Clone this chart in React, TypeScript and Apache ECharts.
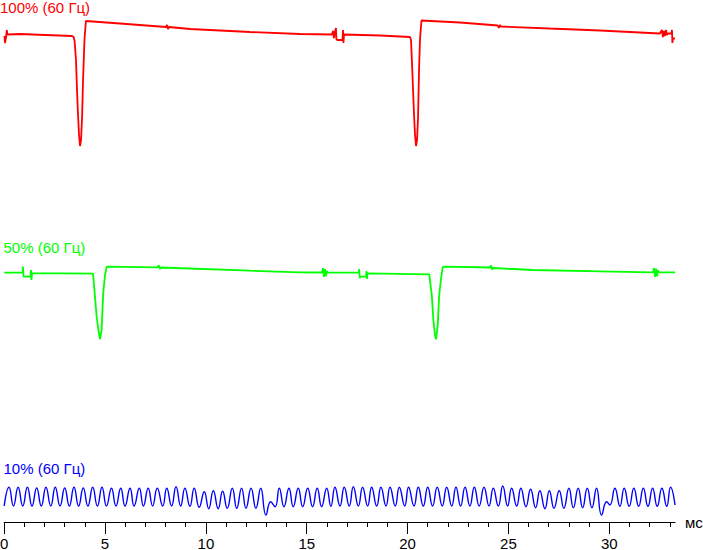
import React, { useEffect, useRef } from "react";
import * as echarts from "echarts";

// time in ms, level in arbitrary units (height above the time axis)
const redTrace: [number, number][] = [
  [0.01, 486], [0.04, 479], [0.10, 486], [0.13, 492], [0.16, 487.5], [0.78, 488], [2.02, 487], [3.36, 486],
  [3.44, 485], [3.49, 481], [3.56, 462], [3.61, 432], [3.66, 407], [3.71, 387], [3.76, 376], [3.81, 382],
  [3.86, 404], [3.91, 442], [3.98, 482], [4.05, 501], [5.74, 498.5], [8.02, 495], [8.07, 497], [8.12, 493],
  [8.17, 495], [9.21, 493], [12.19, 490], [14.67, 488], [16.25, 487.5], [16.30, 491], [16.35, 484], [16.40, 490],
  [16.45, 494], [16.47, 483], [16.52, 482], [16.77, 482], [16.80, 492], [16.82, 479], [16.85, 487.5], [18.63, 486.5],
  [20.12, 485], [20.17, 482], [20.22, 459], [20.27, 433], [20.32, 407], [20.37, 387], [20.42, 376], [20.47, 382],
  [20.52, 405], [20.57, 453], [20.62, 484], [20.69, 501.5], [22.60, 499.5], [24.48, 496.5], [24.53, 494], [24.58, 497],
  [24.63, 495.5], [27.06, 493.5], [29.54, 491.5], [32.51, 488.5], [32.61, 492], [32.66, 485], [32.71, 491], [32.76, 486],
  [32.81, 492], [32.86, 487], [32.91, 488.5], [33.08, 488.5], [33.11, 492], [33.13, 479], [33.16, 483.5], [33.26, 483.5],
];

const greenTrace: [number, number][] = [
  [0.00, 249.3], [0.91, 249.3], [0.93, 255.5], [0.96, 246], [0.98, 245.3], [1.30, 245.3], [1.33, 252], [1.35, 242],
  [1.38, 248.7], [2.77, 248.7], [4.40, 248.3], [4.42, 245.3], [4.50, 225.3], [4.59, 204], [4.67, 192], [4.75, 183],
  [4.83, 192], [4.91, 229], [5.00, 247], [5.08, 255.3], [7.58, 254.7], [7.67, 256.5], [7.72, 253], [7.77, 254.5],
  [12.19, 251.3], [14.66, 249.7], [15.76, 249.5], [15.81, 254], [15.86, 245], [15.91, 253], [15.95, 246], [16.00, 251],
  [16.05, 249.3], [17.59, 249.3], [17.60, 253], [17.63, 244], [17.66, 245.3], [17.94, 245.3], [17.96, 251], [17.99, 243],
  [18.01, 248.7], [21.08, 247.7], [21.11, 242], [21.20, 227], [21.28, 202], [21.36, 187], [21.41, 182.7], [21.49, 195.3],
  [21.57, 227], [21.66, 243.7], [21.74, 254.7], [21.81, 255.3], [24.09, 254.5], [24.14, 256.5], [24.19, 252.5], [24.24, 254],
  [26.22, 252], [29.54, 250.7], [32.17, 249.7], [32.22, 254], [32.27, 245], [32.32, 253.5], [32.37, 245.5], [32.41, 252],
  [32.46, 249.7], [33.26, 249.7],
];

// extrema of the 10% ripple (peak / trough alternating)
const blueTrace: [number, number][] = [
  [0.00, 16], [0.24, 34.7], [0.46, 16], [0.69, 34.7], [0.92, 16], [1.15, 34.7], [1.38, 16], [1.61, 34],
  [1.84, 16], [2.07, 34.7], [2.31, 16], [2.53, 34.7], [2.77, 16], [3.00, 34], [3.23, 16], [3.46, 34.7],
  [3.69, 16], [3.92, 34], [4.15, 16], [4.39, 34.7], [4.62, 16], [4.85, 34.7], [5.07, 16], [5.32, 33.7],
  [5.54, 16], [5.78, 33.7], [5.99, 16], [6.24, 33.7], [6.44, 16], [6.70, 33.7], [6.90, 16], [7.14, 33.7],
  [7.36, 16], [7.59, 33.7], [7.86, 16], [8.06, 33.7], [8.30, 16], [8.52, 35.3], [8.75, 16], [8.96, 33.7],
  [9.21, 15.7], [9.42, 33.7], [9.67, 14.7], [9.92, 30.3], [10.14, 13.3], [10.37, 31.3], [10.61, 13.3], [10.83, 30.7],
  [11.06, 13.7], [11.31, 33.7], [11.53, 13.7], [11.77, 33.7], [11.99, 13.7], [12.24, 33.7], [12.48, 13.7], [12.72, 33.7],
  [12.98, 7], [13.21, 20.3], [13.43, 15.3], [13.64, 33.7], [13.87, 15.3], [14.12, 33.7], [14.33, 15.3], [14.58, 33.7],
  [14.80, 15.3], [15.05, 33.7], [15.29, 15.3], [15.52, 33.7], [15.74, 15.3], [15.99, 33.7], [16.20, 15.7], [16.40, 34.7],
  [16.65, 16], [16.86, 34.7], [17.11, 16], [17.31, 35.3], [17.56, 16], [17.77, 34.7], [18.02, 16], [18.22, 34.7],
  [18.47, 16], [18.68, 34.7], [18.93, 16], [19.13, 34.7], [19.39, 16], [19.59, 34.7], [19.86, 16], [20.05, 34.7],
  [20.32, 16], [20.53, 34.7], [20.78, 16], [21.00, 34.7], [21.24, 16], [21.47, 34.7], [21.72, 16], [21.94, 34.7],
  [22.19, 16], [22.40, 34.7], [22.63, 16], [22.85, 34.7], [23.09, 16], [23.31, 34.7], [23.55, 16], [23.79, 34.7],
  [24.04, 16], [24.25, 33.7], [24.50, 16], [24.72, 36], [24.96, 16], [25.16, 33.7], [25.41, 16], [25.62, 33.7],
  [25.87, 15.3], [26.10, 32.7], [26.35, 14.3], [26.56, 31.3], [26.81, 13.3], [27.03, 31.3], [27.26, 13.7], [27.52, 31.3],
  [27.75, 13.7], [28.00, 33.7], [28.22, 14.3], [28.46, 33.7], [28.68, 14.3], [28.91, 33.7], [29.14, 14.3], [29.37, 33.7],
  [29.62, 7], [29.87, 20.3], [30.03, 17], [30.28, 33.7], [30.53, 15.7], [30.74, 33.7], [30.99, 15.7], [31.22, 33.7],
  [31.46, 15.7], [31.69, 33.7], [31.92, 15.7], [32.15, 33.7], [32.38, 15.7], [32.61, 33.7], [32.85, 15.7], [33.04, 34.7],
  [33.26, 17],
];

const traceLabels = ["100% (60 Гц)", "50% (60 Гц)", "10% (60 Гц)"];
const majorTicks = [0, 5, 10, 15, 20, 25, 30];
const minorTicks = [0, 1, 2, 3, 4, 5, 6, 7, 8, 9, 10, 11, 12, 13, 14, 15, 16, 17, 18, 19, 20, 21, 22, 23, 24, 25, 26, 27, 28, 29, 30, 31, 32, 33];
const timeMax = 33.26;
const unitName = "мс";

const FONT = "'Liberation Sans', Arial, sans-serif";

export default function App() {
  const ref = useRef<HTMLDivElement>(null);
  useEffect(() => {
    if (!ref.current) return;
    const chart = echarts.init(ref.current, undefined, { renderer: "svg" });
    const labelColors = ["#ff0000", "#00ff00", "#0000ff"];
    const labelPos = [
      { x: 0, y: 7 },
      { x: 3.5, y: 247 },
      { x: 3.5, y: 468.5 },
    ];
    chart.setOption({
      animation: false,
      backgroundColor: "#ffffff",
      grid: {
        left: 4.2,
        right: 28,
        top: 0,
        bottom: 28,
        containLabel: false,
        outerBoundsMode: "none",
      },
      xAxis: [
        {
          type: "value",
          min: 0,
          max: timeMax,
          position: "bottom",
          splitLine: { show: false },
          axisLine: { show: true, lineStyle: { color: "#000", width: 1 } },
          axisTick: { show: true, customValues: majorTicks, length: 12, lineStyle: { color: "#000", width: 1 } },
          axisLabel: {
            show: true,
            customValues: majorTicks,
            color: "#000",
            fontSize: 15,
            lineHeight: 14,
            fontFamily: FONT,
            margin: 14,
          },
          name: unitName,
          nameLocation: "end",
          nameGap: 10,
          nameTextStyle: { color: "#000", fontSize: 15, lineHeight: 15, fontFamily: FONT, verticalAlign: "middle" },
        },
        {
          type: "value",
          min: 0,
          max: timeMax,
          position: "bottom",
          splitLine: { show: false },
          axisLine: { show: false },
          axisTick: { show: true, customValues: minorTicks, length: 5, lineStyle: { color: "#000", width: 1 } },
          axisLabel: { show: false },
        },
      ],
      yAxis: { type: "value", min: 0, max: 522, show: false },
      graphic: traceLabels.map((t, i) => ({
        type: "text",
        x: labelPos[i].x,
        y: labelPos[i].y,
        style: {
          text: t,
          fill: labelColors[i],
          fontSize: 15,
          fontFamily: FONT,
          textVerticalAlign: "middle",
          verticalAlign: "middle",
        },
        silent: true,
      })),
      series: [
        {
          type: "line",
          data: redTrace,
          showSymbol: false,
          symbol: "none",
          lineStyle: { color: "#ff0000", width: 1.8 },
          silent: true,
        },
        {
          type: "line",
          data: greenTrace,
          showSymbol: false,
          symbol: "none",
          lineStyle: { color: "#00ff00", width: 1.8 },
          silent: true,
        },
        {
          type: "line",
          data: blueTrace,
          showSymbol: false,
          symbol: "none",
          smooth: 0.5,
          lineStyle: { color: "#0000ff", width: 1.4 },
          silent: true,
        },
      ],
    });
    return () => chart.dispose();
  }, []);
  return (
    <div
      ref={ref}
      style={{ position: "fixed", left: 0, top: 0, width: 703, height: 550, background: "#fff" }}
    />
  );
}
